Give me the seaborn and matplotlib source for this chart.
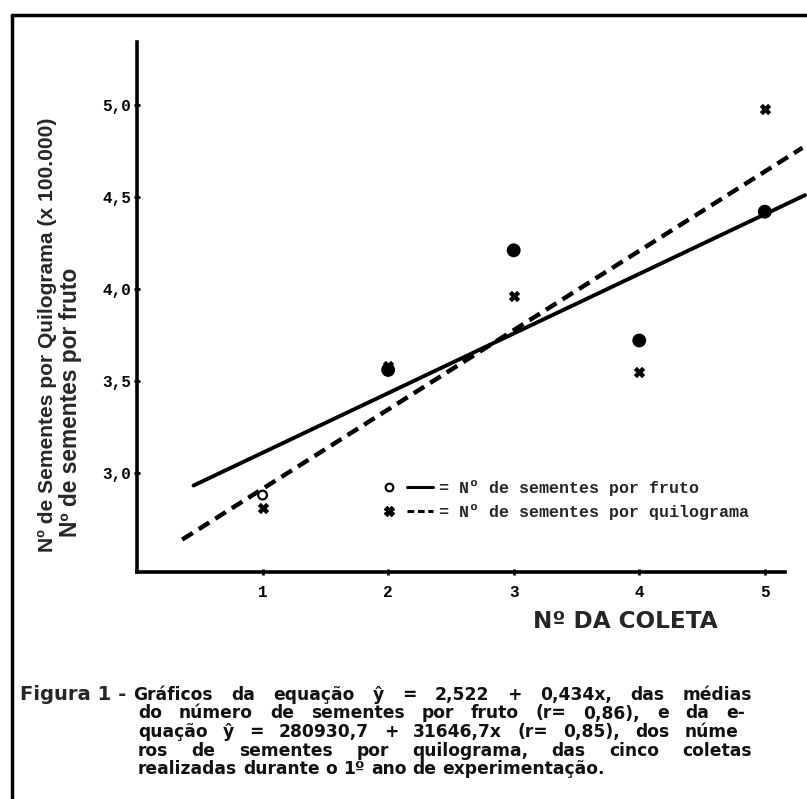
import numpy as np
import pandas as pd
import matplotlib
matplotlib.use("Agg")
import matplotlib.pyplot as plt
import seaborn as sns
from matplotlib.lines import Line2D
from matplotlib.legend_handler import HandlerTuple

# dados (eixo y em unidades do gráfico)
coleta = [1, 2, 3, 4, 5]
sementes_fruto = [2.88, 3.56, 4.21, 3.72, 4.42]
sementes_kg = [2.81, 3.58, 3.96, 3.55, 4.98]  # x 100.000
xticks = [1, 2, 3, 4, 5]
yticks = [3.0, 3.5, 4.0, 4.5, 5.0]
ytick_labels = ["3,0", "3,5", "4,0", "4,5", "5,0"]
# trecho onde cada reta foi traçada
reta_fruto = [0.45, 5.32]
reta_kg = [0.36, 5.30]

caption = [
    "Gráficos da equação ŷ = 2,522 + 0,434x, das médias",
    "do número de sementes por fruto (r= 0,86), e da e-",
    "quação ŷ = 280930,7 + 31646,7x (r= 0,85), dos núme",
    "ros de sementes por quilograma, das cinco coletas",
    "realizadas durante o 1º ano de experimentação.",
]

df = pd.DataFrame({"coleta": coleta, "fruto": sementes_fruto, "kg": sementes_kg})

sns.set_theme(style="white")
plt.rcParams["font.family"] = ["DejaVu Sans"]

W, H = 807, 799
fig = plt.figure(figsize=(W / 100, H / 100), dpi=100)
ax = fig.add_axes([137 / W, 1 - 572 / H, (805 - 137) / W, (572 - 42) / H])
renderer = fig.canvas.get_renderer()


def ajusta(texto, largura, vertical=False):
    # escala a fonte para o texto ocupar a largura medida na figura
    bb = texto.get_window_extent(renderer)
    atual = bb.height if vertical else bb.width
    texto.set_fontsize(texto.get_fontsize() * largura / atual)


def justifica(linha, x0, x1, y, **kw):
    # linha justificada como na datilografia: palavra por palavra
    palavras = [fig.text(0, 1 - y / H, p, ha="left", va="baseline", **kw)
                for p in linha.split()]
    larg = [p.get_window_extent(renderer).width for p in palavras]
    if x1 is None:
        fp = palavras[0].get_fontproperties()
        vao = (renderer.get_text_width_height_descent("a a", fp, ismath=False)[0]
               - renderer.get_text_width_height_descent("aa", fp, ismath=False)[0])
    else:
        vao = (x1 - x0 - sum(larg)) / (len(palavras) - 1)
    x = x0
    for p, w in zip(palavras, larg):
        p.set_x(x / W)
        x += w + vao


# retas de regressão
b1, a1 = np.polyfit(df["coleta"], df["fruto"], 1)
b2, a2 = np.polyfit(df["coleta"], df["kg"], 1)
x1 = np.array(reta_fruto)
x2 = np.array(reta_kg)
sns.lineplot(x=x1, y=a1 + b1 * x1, ax=ax, color="black", lw=2.8)
sns.lineplot(x=x2, y=a2 + b2 * x2, ax=ax, color="black", lw=3.2)
ax.lines[-1].set_dashes((2.8, 1.6))
for ln in ax.lines:
    ln.set_clip_on(False)

# médias (a primeira coleta aparece como círculo vazado)
sns.scatterplot(data=df, x="coleta", y="fruto", ax=ax, marker="o", s=70,
                color="black", edgecolor="black", linewidth=1.6, zorder=3)
pontos = ax.collections[-1]
pontos.set_facecolors(["white"] + ["black"] * (len(coleta) - 1))
pontos.set_sizes([40] + [70] * (len(coleta) - 1))
sns.scatterplot(data=df, x="coleta", y="kg", ax=ax, marker="X", s=55,
                color="black", edgecolor="black", linewidth=0.5, zorder=3)

ax.set_xlim(0, 5.32)
ax.set_ylim(2.462, 5.342)
ax.set_xticks(xticks)
ax.set_xticklabels([str(v) for v in xticks])
ax.set_yticks(yticks)
ax.set_yticklabels(ytick_labels)
for lab in ax.get_xticklabels() + ax.get_yticklabels():
    lab.set_family("Liberation Mono")
    lab.set_fontweight("bold")
    lab.set_fontsize(11.5)
    lab.set_color("black")
ax.tick_params(axis="both", direction="inout", length=5, width=2,
               color="black", bottom=True, left=True)
ax.tick_params(axis="x", pad=7)
ax.tick_params(axis="y", pad=1.5)

sns.despine(ax=ax)
for lado in ["left", "bottom"]:
    ax.spines[lado].set_linewidth(2.6)
    ax.spines[lado].set_color("black")
ax.spines["bottom"].set_bounds(0, 5.16)
ax.set_xlabel("")
ax.set_ylabel("")

# legenda
h_fruto = (Line2D([], [], marker="o", ls="none", mfc="white", mec="black", mew=1.6, ms=5.5),
           Line2D([], [], color="black", lw=2.2))
h_kg = (Line2D([], [], marker="X", ls="none", color="black", ms=6.5),
        Line2D([], [], color="black", lw=2.2, dashes=(2.2, 1.2)))
leg = ax.legend([h_fruto, h_kg],
                ["= Nº de sementes por fruto", "= Nº de sementes por quilograma"],
                handler_map={tuple: HandlerTuple(ndivide=None, pad=0.3)},
                prop={"family": "Liberation Mono", "weight": "bold", "size": 12},
                frameon=False, loc="center left", handlelength=3.4, handletextpad=0.4,
                labelspacing=0.45, borderpad=0, borderaxespad=0,
                bbox_to_anchor=(376 / W, 1 - 500 / H), bbox_transform=fig.transFigure)

# rótulos dos eixos
yl1 = fig.text(47 / W, 1 - 552 / H, "Nº de Sementes por Quilograma (x 100.000)",
               rotation=90, ha="center", va="bottom", fontsize=12.5,
               fontweight="bold", family="Liberation Sans")
ajusta(yl1, 436, vertical=True)
yl2 = fig.text(71 / W, 1 - 537 / H, "Nº de sementes por fruto",
               rotation=90, ha="center", va="bottom",
               fontsize=yl1.get_fontsize() * 1.08,
               fontweight="bold", family="Liberation Sans")
xl = fig.text(625 / W, 1 - 622 / H, "Nº DA COLETA", ha="center", va="center",
              fontsize=12.5, fontweight="bold", family="DejaVu Sans")
ajusta(xl, 185)

# legenda da figura
fig_lab = fig.text(20 / W, 1 - 700 / H, "Figura 1 -", ha="left", va="baseline",
                   fontsize=13, fontweight="bold", family="DejaVu Sans")
ajusta(fig_lab, 106)

# tamanho da letra tirado da última linha (não justificada)
ref = fig.text(0, 0, caption[-1], family="DejaVu Sans", fontweight="bold",
               fontsize=12)
ajusta(ref, 465)
corpo_kw = dict(family="DejaVu Sans", fontweight="bold",
                fontsize=ref.get_fontsize(), color="#111111")
ref.remove()
fins = [752, 745, 738, 752, None]
for i, (linha, fim) in enumerate(zip(caption, fins)):
    x0 = 133 if i == 0 else 138
    justifica(linha, x0, fim, 700 + i * 18.5, **corpo_kw)

# moldura (esquerda e topo)
fig.add_artist(Line2D([12 / W, 12 / W], [0, 1 - 15 / H], transform=fig.transFigure,
                      color="black", lw=2.5))
fig.add_artist(Line2D([12 / W, 1], [1 - 15 / H, 1 - 15 / H], transform=fig.transFigure,
                      color="black", lw=2.5))

fig.savefig("out.png", dpi=100, facecolor="white")
